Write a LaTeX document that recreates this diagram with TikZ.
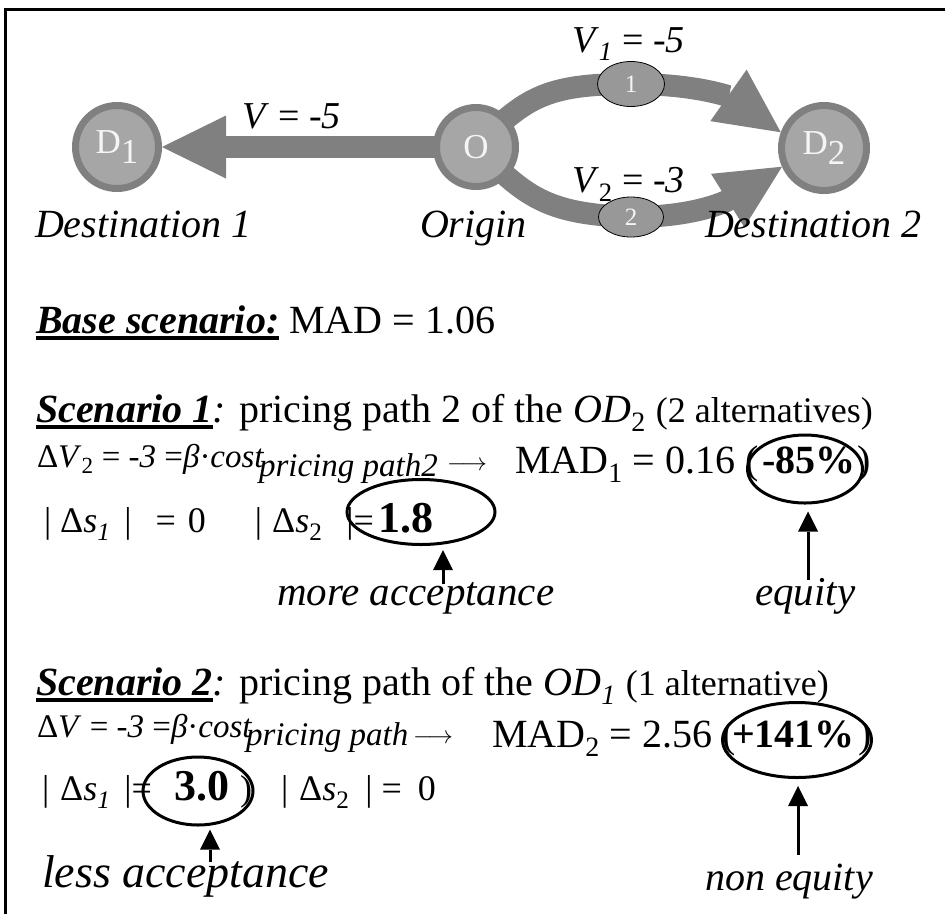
\documentclass[tikz,border=0pt]{standalone}
\usepackage{fontspec}
\setmainfont{Liberation Serif}
\usetikzlibrary{arrows.meta,shapes.geometric,backgrounds}
\newcommand{\fs}[1]{\fontsize{#1}{#1}\selectfont}
\newcommand{\thickul}[1]{\setbox0\hbox{#1}\rlap{\raisebox{-7pt}{\rule{\wd0}{4pt}}}\box0\relax}
\definecolor{ringgray}{RGB}{128,128,128}
\definecolor{innergray}{RGB}{166,166,166}
\definecolor{pathgray}{RGB}{152,152,152}
\definecolor{nodetext}{RGB}{245,245,245}
\begin{document}
\begin{tikzpicture}[x=1pt,y=-1pt,
  city/.style={circle,draw=ringgray,line width=7pt,fill=innergray,inner sep=0pt,text=nodetext,font=\fs{35}},
  pathnode/.style={ellipse,draw=black,line width=0.8pt,fill=pathgray,inner sep=0pt,text=nodetext,font=\fs{25}},
  band/.style={draw=ringgray,line width=22pt},
  bandtip/.style={-{Triangle[length=64pt 0,width=63pt 0,line width=0pt]}},
  txt/.style={anchor=base west,inner sep=0pt,outer sep=0pt},
  lab/.style={txt,font=\fs{40}\itshape},
  valell/.style={ellipse,draw=black,line width=3pt,inner sep=0pt},
  ptr/.style={line width=3pt,-{Triangle[length=20pt 0,width=20pt 0,line width=0pt]}},
]
\useasboundingbox (0,0) rectangle (945,914);
\draw[line width=3pt] (5.5,914) -- (5.5,9.5) -- (945,9.5);

% network nodes
\node[city,minimum size=83pt] (D1) at (117,147) {D\raisebox{-0.3em}{1}};
\node[city,minimum size=79pt] (O) at (476,147) {O};
\node[city,minimum size=85pt] (D2) at (824,148) {D\raisebox{-0.3em}{2}};
\node[pathnode,minimum width=67pt,minimum height=45pt] (p1) at (631,84) {1};
\node[pathnode,minimum width=65pt,minimum height=40pt] (p2) at (631,217) {2};

\begin{scope}[on background layer]
\fill[white] (0,0) rectangle (945,914);
\draw[band,bandtip] (O.center) -- (D1.east);
\draw[band] (O.center) .. controls (525,98) and (545,84) .. (p1.center);
\draw[band,bandtip] (p1.center) .. controls (705,84) and (735,100) .. (D2.160);
\draw[band] (O.center) .. controls (525,196) and (545,214) .. (p2.center);
\draw[band,bandtip] (p2.center) .. controls (705,217) and (735,196) .. (D2.204);
\end{scope}

% top labels
\node[txt,font=\fs{38}] (vlab) at (242,128) {\textit{V} = \textit{-5}};
\node[txt,font=\fs{38}] (v1lab) at (572,52) {\textit{V}\textsubscript{\textit{1}} = \textit{-5}};
\node[txt,font=\fs{38}] (v2lab) at (572,192) {\textit{V}\textsubscript{2} = \textit{-3}};
\node[lab] (dest1) at (35,237) {Destination 1};
\node[lab] (orig) at (420,237) {Origin};
\node[lab] (dest2) at (705,237) {Destination 2};

% base scenario
\node[txt,font=\fs{40}] (base) at (36,333) {\thickul{\bfseries\itshape Base scenario:} MAD = 1.06};

% scenario 1
\node[txt,font=\fs{40}] (sc1) at (36,422) {\thickul{\bfseries\itshape Scenario 1}\textit{:} pricing path 2 of the \textit{OD}\textsubscript{2} {\fs{36}(2 alternatives)}};
\node[txt,font=\fs{33}] (f1a) at (37,467) {Δ\textit{V}\textsubscript{2} = \textit{-3} =\textit{β}·\textit{cost}};
\node[txt,font=\fs{33}\itshape] (f1b) at (259,476) {pricing path2};
\node[txt,font=\fs{34}] (f1c) at (447,470) {$\longrightarrow$};
\node[txt,font=\fs{40}] (f1d) at (515,473) {MAD\textsubscript{1} = 0.16 (};
\node[txt,font=\fs{40}\bfseries] (f1e) at (762,473) {-85\%};
\node[txt,font=\fs{40}] (f1f) at (857,473) {)};
\node[valell,minimum width=115pt,minimum height=68pt] (e85) at (805,469) {};
\node[txt,font=\fs{36}] (s1a) at (44,532) {|\hspace{9pt}Δ\textit{s}\textsubscript{\textit{1}}\hspace{14pt}|\hspace{24pt}=\hspace{12pt}0\hspace{49pt}|\hspace{10pt}Δ\textit{s}\textsubscript{2}\hspace{24pt}|=};
\node[txt,font=\fs{44}\bfseries] (v18) at (378,532) {1.8};
\node[valell,minimum width=148pt,minimum height=65pt] (e18) at (421,512) {};
\coordinate (a18) at (443,584);
\draw[ptr,shorten >=4pt] (a18) -- (a18 |- e18.south);
\node[lab,font=\fs{41}\itshape] (more) at (277,605) {more acceptance};
\coordinate (aeq) at (808,580);
\draw[ptr,shorten >=7pt] (aeq) -- (aeq |- e85.south);
\node[lab,font=\fs{41}\itshape] (eq) at (755,605) {equity};

% scenario 2
\node[txt,font=\fs{40}] (sc2) at (36,695) {\thickul{\bfseries\itshape Scenario 2}\textit{:} pricing path of the \textit{OD}\textsubscript{\textit{1}} {\fs{36}(1 alternative)}};
\node[txt,font=\fs{33}] (f2a) at (37,737) {Δ\textit{V} = \textit{-3} =\textit{β}·\textit{cost}};
\node[txt,font=\fs{33}\itshape] (f2b) at (246,745) {pricing path};
\node[txt,font=\fs{39}] (f2c) at (413,743) {$\longrightarrow$};
\node[txt,font=\fs{40}] (f2d) at (492,747) {MAD\textsubscript{2} = 2.56 (};
\node[txt,font=\fs{40}\bfseries] (f2e) at (732,747) {+141\%};
\node[txt,font=\fs{40}] (f2f) at (858,747) {)};
\node[valell,minimum width=149pt,minimum height=75pt] (e141) at (797,740) {};
\node[txt,font=\fs{36}] (s2a) at (42,800) {|\hspace{11pt}Δ\textit{s}\textsubscript{\textit{1}}\hspace{14pt}|=};
\node[txt,font=\fs{44}\bfseries] (v30) at (174,800) {3.0};
\node[txt,font=\fs{36}] (v30p) at (240,800) {)};
\node[txt,font=\fs{36}] (s2b) at (281,800) {|\hspace{11pt}Δ\textit{s}\textsubscript{2}\hspace{16pt}|\hspace{9pt}=\hspace{16pt}0};
\node[valell,minimum width=110pt,minimum height=68pt] (e30) at (198,791) {};
\coordinate (a30) at (210,862);
\draw[ptr,shorten >=3pt] (a30) -- (a30 |- e30.south);
\node[lab,font=\fs{46}\itshape] (less) at (42,887) {less acceptance};
\coordinate (a141) at (798,855);
\draw[ptr,shorten >=7pt] (a141) -- (a141 |- e141.south);
\node[lab] (noneq) at (705,890) {non equity};
\end{tikzpicture}
\end{document}
